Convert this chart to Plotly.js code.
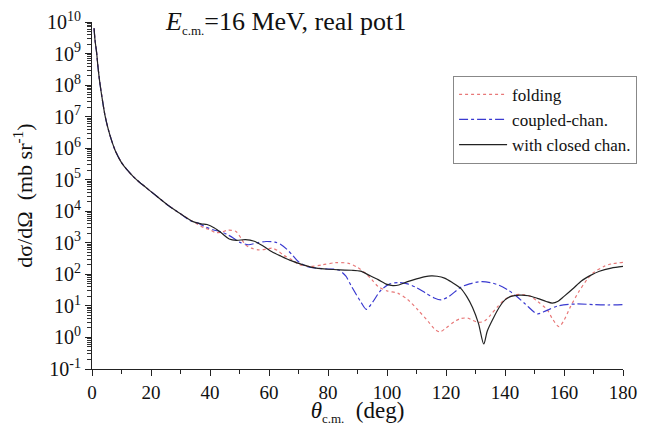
<!DOCTYPE html>
<html>
<head>
<meta charset="utf-8">
<script src="https://cdn.plot.ly/plotly-3.0.1.min.js"></script>
<style>
html,body{margin:0;padding:0;background:#fff;}
#chart{width:649px;height:426px;}
#chart text{font-family:'Liberation Serif','Times New Roman',serif !important;}
</style>
</head>
<body>
<div id="chart"></div>
<script>
// angle (deg) and cross section (mb/sr)
const thetaClosed = [0.7,1.0,1.6,2.0,2.7,3.5,4.4,5.5,6.6,8,10,12,14,16,18,20,23,26,30,34,37,39,41.5,44,46.5,49,52,55,58,61,64,67,70,73,76,80,84,88,91,94,97,100,102,104,107,110,113,115,117,119.5,122,125,127,129,131,132.8,134,136,138,140,142,145,148,151,154,156,158,160,163,166,169,172,176,180];
const sigmaClosed = [6.3e9,2.8e9,1.0e9,4.0e8,1.1e8,3.5e7,1.1e7,4.0e6,1.8e6,7.9e5,3.5e5,2.0e5,1.26e5,8.5e4,6.0e4,4.2e4,2.5e4,1.5e4,8.3e3,4.8e3,4.0e3,3.8e3,2.95e3,2.0e3,1.32e3,1.2e3,1.26e3,1.12e3,794,525,380,282,224,182,158,145,138,135,126,93,68,48,44,46,59,72,85,89,87,76,56,36,20,8.9,2.8,0.62,1.6,4.0,8.9,15.5,20,22,21,17.4,13.8,12.3,14.1,20,35,63,93,126,158,178];

const thetaCoupled = [0.7,1.0,1.6,2.0,2.7,3.5,4.4,5.5,6.6,8,10,12,14,16,18,20,23,26,30,33,36,38.5,41,44,46,48,50,53,56,59,62,64,66,68,70,73,77,80,83.6,86,88,91,93,95,98,101,104,107,110,113,116,118.4,121,125,128,132,135,138,141,144,147,151,154,158,164,170,175,180];
const sigmaCoupled = [6.3e9,2.8e9,1.0e9,4.0e8,1.1e8,3.5e7,1.1e7,4.0e6,1.8e6,7.9e5,3.5e5,2.0e5,1.26e5,8.5e4,6.0e4,4.2e4,2.5e4,1.5e4,8.3e3,5.2e3,4.2e3,3.2e3,2.6e3,2.2e3,1.8e3,1.4e3,1.05e3,870,1.0e3,1.1e3,1.05e3,890,630,400,250,174,155,148,138,89,41,14,7.8,12.6,32,50,55,50,38,26,17.8,15.5,20,39,50,59,55,45,32,20,11.2,5.6,7.1,10,11.5,11,10.7,11];

const thetaFolding = [0.7,1.0,1.6,2.0,2.7,3.5,4.4,5.5,6.6,8,10,12,14,16,18,20,23,26,30,34,36,38,40,42,44,46,48.8,50.5,52,54,56.6,59,61,63,65,67.8,70,74,78,82.5,87,90,92.6,95,97,100,103.8,107,110.5,114,116,117.9,120,122.9,125,127.4,129,131,133,135,137.5,140,143,146,148.7,151,154.4,156,158.3,160,162.2,165,167.8,170,173.5,176,180];
const sigmaFolding = [6.3e9,2.8e9,1.0e9,4.0e8,1.1e8,3.5e7,1.1e7,4.0e6,1.8e6,7.9e5,3.5e5,2.0e5,1.26e5,8.5e4,6.0e4,4.2e4,2.5e4,1.5e4,8.3e3,4.8e3,3.8e3,3.0e3,2.6e3,2.1e3,2.2e3,2.5e3,2.3e3,1.4e3,870,680,600,630,680,560,400,290,210,178,200,234,224,166,110,66,41,30,25,16,7.4,3.2,1.9,1.5,2.0,3.2,4.0,4.1,3.5,3.0,3.3,5.0,9.5,16,22,23,20,14,7.4,4.0,2.2,3.5,9.5,28,68,112,178,214,240];

const seriesNames = ['folding','coupled-chan.','with closed chan.'];
const yTickVals = [0.1,1,10,100,1e3,1e4,1e5,1e6,1e7,1e8,1e9,1e10];
const yTickText = ['10<sup>-1</sup>','10<sup>0</sup>','10<sup>1</sup>','10<sup>2</sup>','10<sup>3</sup>','10<sup>4</sup>','10<sup>5</sup>','10<sup>6</sup>','10<sup>7</sup>','10<sup>8</sup>','10<sup>9</sup>','10<sup>10</sup>'];

// minor tick positions 2..9 within each decade (axis decoration)
const yMinorVals = [];
for (let i = 0; i < yTickVals.length - 1; i++) {
  for (let m = 2; m <= 9; m++) yMinorVals.push(yTickVals[i] * m);
}

const serif = 'Liberation Serif';

const traces = [
  {x: thetaFolding, y: sigmaFolding, name: seriesNames[0], mode: 'lines',
   line: {color: '#e87878', width: 1.2, dash: 'dot', shape: 'spline', smoothing: 0.8}},
  {x: thetaCoupled, y: sigmaCoupled, name: seriesNames[1], mode: 'lines',
   line: {color: '#3a3ad0', width: 1.2, dash: 'dashdot', shape: 'spline', smoothing: 0.8}},
  {x: thetaClosed, y: sigmaClosed, name: seriesNames[2], mode: 'lines',
   line: {color: '#222222', width: 1.2, shape: 'spline', smoothing: 0.8}},
  // empty helper trace so the minor-tick axis is drawn
  {x: [], y: [], yaxis: 'y2', mode: 'lines', showlegend: false, hoverinfo: 'skip'}
];

const layout = {
  width: 649, height: 426,
  margin: {l: 92, r: 23, t: 22, b: 57},
  paper_bgcolor: '#fff', plot_bgcolor: '#fff',
  font: {family: serif, color: '#111', size: 17},
  showlegend: true,
  legend: {x: 0.68, y: 0.845, xanchor: 'left', yanchor: 'top',
           bordercolor: '#888', borderwidth: 1, bgcolor: '#fff',
           font: {family: serif, size: 17, color: '#111'},
           itemwidth: 48, tracegroupgap: 0},
  xaxis: {range: [0, 180], showline: true, linecolor: '#222', linewidth: 1,
          mirror: false, showgrid: false, zeroline: false,
          ticks: 'outside', ticklen: 6, tickcolor: '#222', dtick: 20, tick0: 0,
          tickfont: {family: serif, size: 19},
          minor: {dtick: 10, ticks: 'outside', ticklen: 4, tickcolor: '#222', showgrid: false},
          title: {text: '<i>θ</i><sub><span style="font-size:13px">c.m.</span></sub>  (deg)', font: {family: serif, size: 23}, standoff: 2}},
  yaxis: {type: 'log', range: [-1, 10], showline: true, linecolor: '#222', linewidth: 1,
          mirror: false, showgrid: false, zeroline: false,
          ticks: 'outside', ticklen: 6, tickcolor: '#222',
          tickvals: yTickVals, ticktext: yTickText,
          tickfont: {family: serif, size: 20},
          title: {text: 'dσ/dΩ  (mb sr<sup>-1</sup>)', font: {family: serif, size: 22}, standoff: 8}},
  yaxis2: {type: 'log', range: [-1, 10], overlaying: 'y', anchor: 'x', side: 'left',
           showline: false, showgrid: false, zeroline: false, showticklabels: false,
           ticks: 'outside', ticklen: 4, tickwidth: 1, tickcolor: '#333',
           tickmode: 'array', tickvals: yMinorVals},
  annotations: [
    {xref: 'paper', yref: 'paper', x: 0.365, y: 1.0, xanchor: 'center', yanchor: 'middle',
     showarrow: false, text: '<i>E</i><sub><span style="font-size:13px">c.m.</span></sub>=16 MeV, real pot1',
     font: {family: serif, size: 26, color: '#111'}}
  ]
};

Plotly.newPlot('chart', traces, layout, {displayModeBar: false, staticPlot: true});
</script>
</body>
</html>
